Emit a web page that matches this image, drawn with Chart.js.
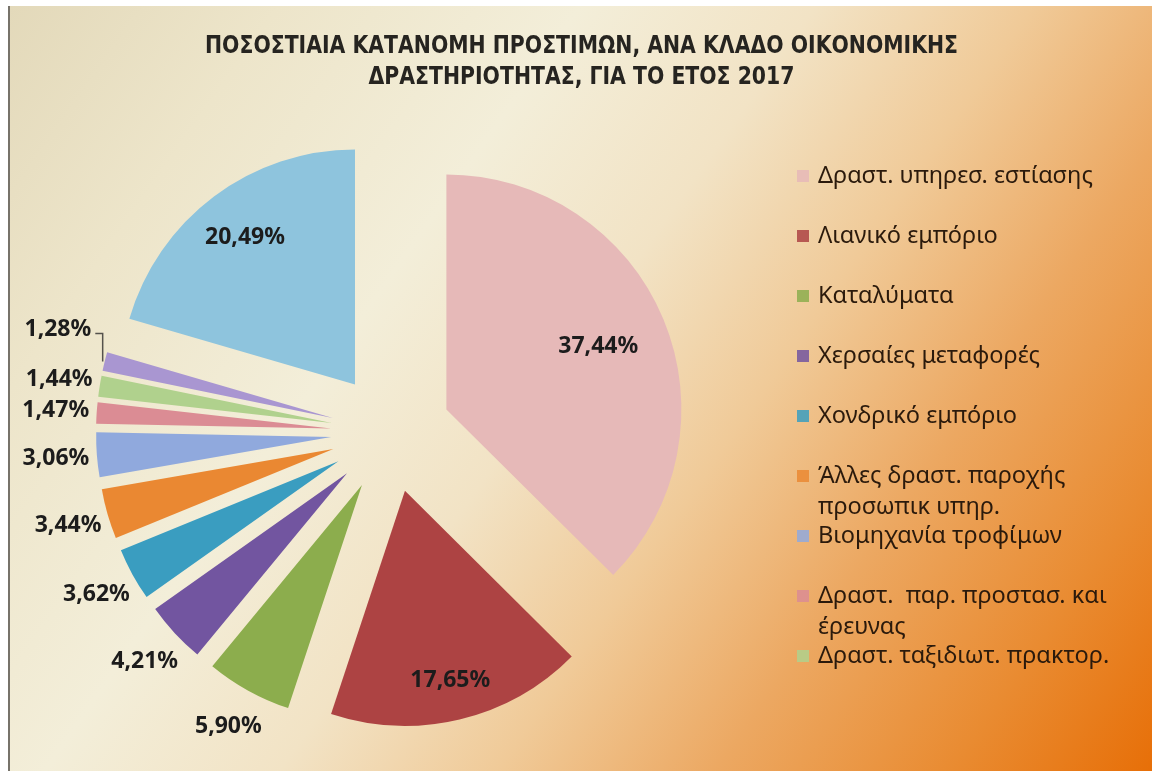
<!DOCTYPE html>
<html>
<head>
<meta charset="utf-8">
<script src="https://cdn.jsdelivr.net/npm/chart.js@4.4.1/dist/chart.umd.min.js"></script>
<style>
  html, body { margin: 0; padding: 0; background: #fff; }
  #frame {
    position: absolute; left: 8px; top: 6px; width: 1142px; height: 765px;
    border-left: 2px solid #77736a;
    background: linear-gradient(125deg, #e3d9ba 0%, #ede5ca 16%, #f3eed9 34%, #f2e3c5 48%, #f0ca98 61%, #eca862 74%, #e98b31 88%, #e76f08 100%);
  }
  #wrap { position: absolute; left: 0; top: 0; width: 1157px; height: 771px; }
</style>
</head>
<body>
<div id="frame"></div>
<div id="wrap"><canvas id="fineChart" width="1157" height="771"></canvas></div>
<script>
// categories in data order (the last two are cut off from the original legend)
const categories = [
  "Δραστ. υπηρεσ. εστίασης",
  "Λιανικό εμπόριο",
  "Καταλύματα",
  "Χερσαίες μεταφορές",
  "Χονδρικό εμπόριο",
  "Άλλες δραστ. παροχής προσωπικ υπηρ.",
  "Βιομηχανία τροφίμων",
  "Δραστ.  παρ. προστασ. και έρευνας",
  "Δραστ. ταξιδιωτ. πρακτορ.",
  "",
  ""
];
const shares = [37.44, 17.65, 5.90, 4.21, 3.62, 3.44, 3.06, 1.47, 1.44, 1.28, 20.49];
const sliceColors = [
  "#e6b9b8", "#ad4343", "#8cad4d", "#7255a0", "#3a9dc0", "#ea8832",
  "#90a9dd", "#db8c94", "#b0d18d", "#a996d1", "#8ec4dd"
];
const titleLines = [
  "ΠΟΣΟΣΤΙΑΙΑ ΚΑΤΑΝΟΜΗ ΠΡΟΣΤΙΜΩΝ, ΑΝΑ ΚΛΑΔΟ ΟΙΚΟΝΟΜΙΚΗΣ",
  "ΔΡΑΣΤΗΡΙΟΤΗΤΑΣ, ΓΙΑ ΤΟ ΕΤΟΣ 2017"
];

const RADIUS = 235;
const EXPLODE = 60;
const LEGEND_ITEMS = 9;
const TITLE_FONT = "'DejaVu Sans', sans-serif";
const TEXT_FONT = "'Noto Sans', 'Open Sans', sans-serif";

// size a font so a sample string gets the width seen in the picture
function fitSize(text, family, weight, target) {
  const c = document.createElement("canvas").getContext("2d");
  c.font = weight + " 20px " + family;
  return 20 * target / c.measureText(text).width;
}
const legendSize = fitSize(categories[0], TEXT_FONT, "normal", 275);
const labelSize = fitSize("37,44%", TEXT_FONT, "bold", 80);

const insideFraction = { 0: 0.70, 1: 0.83, 10: 0.78 };
const OUTSIDE_GAP = 41;
const nudged = { 9: { dx: -7, dy: -22 } };

const pct = (v) => v.toFixed(2).replace(".", ",") + "%";

// push every slice out from the centre, like Excel's exploded pie
const explodeSlices = {
  id: "explodeSlices",
  beforeDatasetsDraw(chart) {
    chart.getDatasetMeta(0).data.forEach((arc) => {
      const mid = (arc.startAngle + arc.endAngle) / 2;
      arc._home = { x: arc.x, y: arc.y };
      arc.x += Math.cos(mid) * EXPLODE;
      arc.y += Math.sin(mid) * EXPLODE;
    });
  },
  afterDatasetsDraw(chart) {
    chart.getDatasetMeta(0).data.forEach((arc) => {
      if (arc._home) { arc.x = arc._home.x; arc.y = arc._home.y; }
    });
  }
};

// condensed bold title, centred on the whole canvas
const wideTitle = {
  id: "wideTitle",
  afterDraw(chart) {
    const ctx = chart.ctx;
    ctx.save();
    ctx.font = "bold 24px " + TITLE_FONT;
    ctx.fillStyle = "#262420";
    ctx.textAlign = "center";
    ctx.textBaseline = "middle";
    const squeeze = 753 / ctx.measureText(titleLines[0]).width;
    const cx = chart.width / 2 + 3;
    titleLines.forEach((ln, i) => {
      ctx.save();
      ctx.translate(cx, 47 + 31 * i);
      ctx.scale(squeeze, 1);
      ctx.fillText(ln, 0, 0);
      ctx.restore();
    });
    ctx.restore();
  }
};

const sliceLabels = {
  id: "sliceLabels",
  afterDraw(chart) {
    const ctx = chart.ctx;
    const values = chart.data.datasets[0].data;
    ctx.save();
    ctx.font = "bold " + labelSize + "px " + TEXT_FONT;
    ctx.textAlign = "center";
    ctx.textBaseline = "middle";
    chart.getDatasetMeta(0).data.forEach((arc, i) => {
      const mid = (arc.startAngle + arc.endAngle) / 2;
      const r = arc.outerRadius;
      const cos = Math.cos(mid), sin = Math.sin(mid);
      const dist = insideFraction[i] !== undefined
        ? EXPLODE + insideFraction[i] * r
        : r + EXPLODE + OUTSIDE_GAP;
      let x = arc.x + cos * dist;
      let y = arc.y + sin * dist;
      const text = pct(values[i]);
      if (nudged[i]) {
        x += nudged[i].dx;
        y += nudged[i].dy;
        const edgeX = arc.x + cos * (r + EXPLODE) - 2;
        const edgeY = arc.y + sin * (r + EXPLODE);
        const w = ctx.measureText(text).width;
        ctx.strokeStyle = "#55524c";
        ctx.lineWidth = 1.5;
        ctx.beginPath();
        ctx.moveTo(x + w / 2 + 4, y + 4);
        ctx.lineTo(edgeX, y + 4);
        ctx.lineTo(edgeX, edgeY);
        ctx.stroke();
      }
      ctx.fillStyle = "#1c1c1c";
      ctx.fillText(text, x, y);
    });
    ctx.restore();
  }
};

function wrapText(ctx, text, maxWidth) {
  const words = text.split(" ");
  const lines = [];
  let line = "";
  words.forEach((w) => {
    const test = line ? line + " " + w : w;
    if (line && ctx.measureText(test).width > maxWidth) {
      lines.push(line);
      line = w;
    } else {
      line = test;
    }
  });
  if (line) lines.push(line);
  return lines;
}

const sideLegend = {
  id: "sideLegend",
  afterDraw(chart) {
    const ctx = chart.ctx;
    const labels = chart.data.labels;
    const colors = chart.data.datasets[0].backgroundColor;
    ctx.save();
    ctx.font = legendSize + "px " + TEXT_FONT;
    ctx.textBaseline = "middle";
    for (let i = 0; i < LEGEND_ITEMS; i++) {
      const y = 176 + 60 * i;
      ctx.globalAlpha = 0.85;
      ctx.fillStyle = colors[i];
      ctx.fillRect(797, y - 6, 12, 12);
      ctx.globalAlpha = 1;
      ctx.fillStyle = "#2b1a0c";
      wrapText(ctx, labels[i], 310).forEach((ln, j) => {
        ctx.fillText(ln, 818, y + 31 * j);
      });
    }
    ctx.restore();
  }
};

new Chart(document.getElementById("fineChart"), {
  type: "pie",
  data: {
    labels: categories,
    datasets: [{
      data: shares,
      backgroundColor: sliceColors,
      borderWidth: 0
    }]
  },
  options: {
    responsive: false,
    animation: false,
    layout: { padding: { left: 20, right: 395, top: 94, bottom: 0 } },
    radius: RADIUS,
    plugins: {
      legend: { display: false },
      tooltip: { enabled: false },
      title: { display: false }
    }
  },
  plugins: [explodeSlices, wideTitle, sliceLabels, sideLegend]
});
</script>
</body>
</html>
